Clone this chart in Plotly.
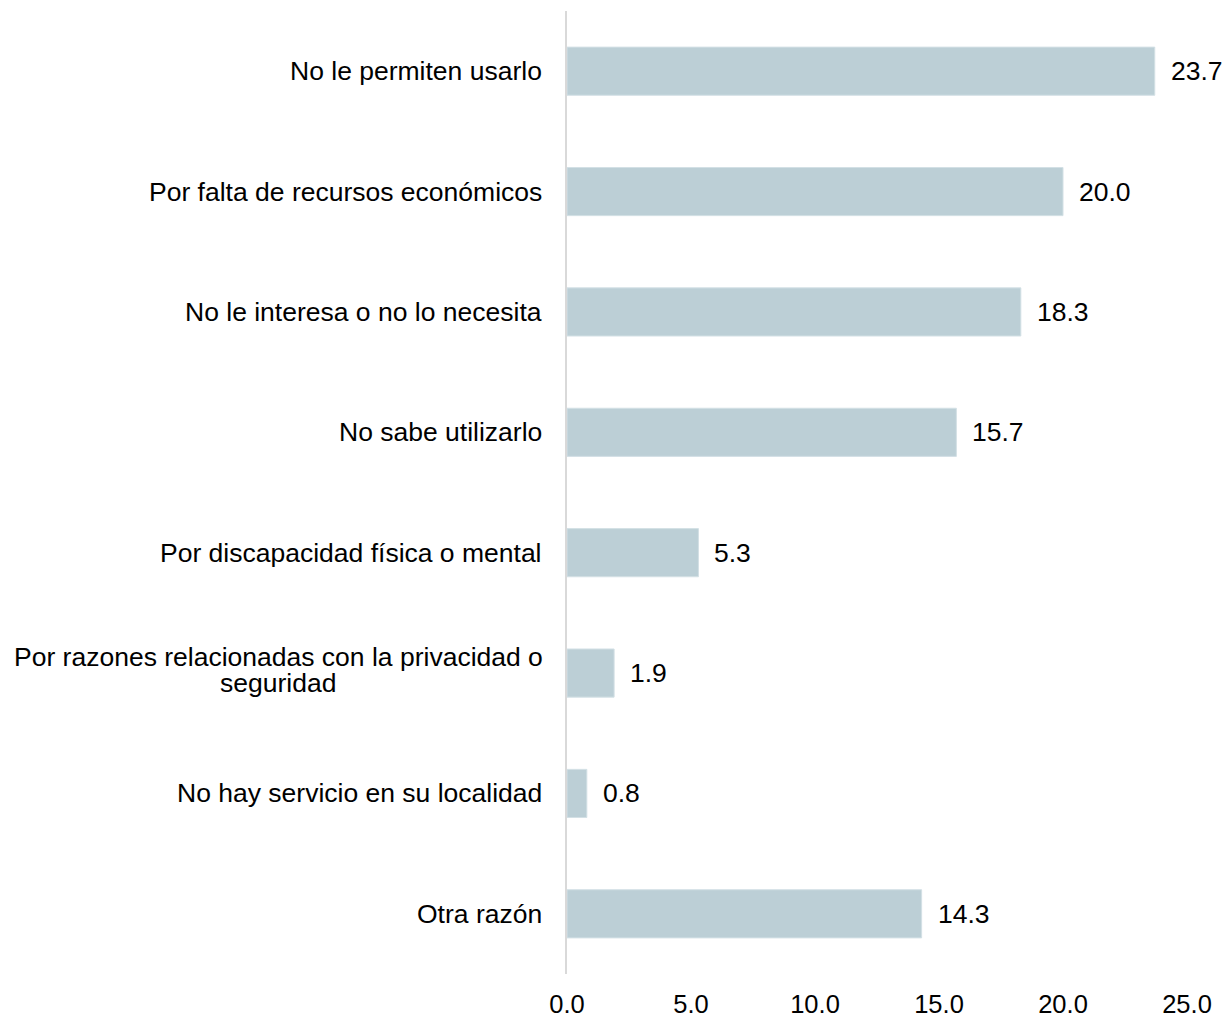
import plotly.graph_objects as go

# Reasons for not using the service (percent)
categories = [
    "No le permiten usarlo",
    "Por falta de recursos económicos",
    "No le interesa o no lo necesita",
    "No sabe utilizarlo",
    "Por discapacidad física o mental",
    "Por razones relacionadas con la privacidad o<br>seguridad",
    "No hay servicio en su localidad",
    "Otra razón",
]
values = [23.7, 20.0, 18.3, 15.7, 5.3, 1.9, 0.8, 14.3]
x_ticks = [0, 5, 10, 15, 20, 25]

FONT = "Liberation Sans, Arial, sans-serif"
BAR_COLOR = "#bccfd6"
LABEL_FONT = dict(family=FONT, size=26.5, color="#000")

fig = go.Figure()
fig.add_trace(go.Bar(
    x           = values,
    y           = categories,
    orientation = "h",
    width       = 0.4,
    marker      = dict(color=BAR_COLOR, line=dict(color="#d3e0e5", width=1)),
    hoverinfo   = "x+y",
))

# value labels to the right of each bar
for cat, v in zip(categories, values):
    fig.add_annotation(
        x=v, y=cat, xref="x", yref="y",
        text=f"{v:.1f}", showarrow=False,
        xanchor="left", xshift=14,
        font=LABEL_FONT,
    )

# category labels; the wrapped one is drawn line by line with tight spacing
# (the reference uses ~1.0 line height there)
for cat in categories:
    lines = cat.split("<br>")
    if len(lines) == 1:
        fig.add_annotation(
            x=0, y=cat, xref="paper", yref="y",
            text=cat, showarrow=False,
            xanchor="right", xshift=-23,
            font=LABEL_FONT,
        )
    else:
        for line, dy in zip(lines, [16, -10]):
            fig.add_annotation(
                x=0, y=cat, xref="paper", yref="y",
                text=line, showarrow=False,
                xanchor="center", xshift=-289, yshift=dy,
                font=LABEL_FONT,
            )

# page body adds ~8px offset, so the figure is sized to fit inside it
fig.update_layout(
    width        = 1224,
    height       = 1013,
    margin       = dict(l=559, r=45, t=3, b=38),
    plot_bgcolor = "white",
    paper_bgcolor= "white",
    showlegend   = False,
    font         = dict(family=FONT, size=25.5, color="#000"),
)
fig.update_xaxes(
    range             = [0, 25],
    tickvals          = x_ticks,
    ticktext          = [f"{t:.1f}" for t in x_ticks],
    showgrid          = False,
    zeroline          = False,
    showline          = False,
    ticks             = "",
    ticklabelstandoff = 12,
)
fig.update_yaxes(
    autorange      = "reversed",
    showticklabels = False,
    showgrid       = False,
    zeroline       = False,
    showline       = True,
    linecolor      = "#d9d9d9",
    linewidth      = 2,
    ticks          = "",
)

fig.write_html("out.html")
